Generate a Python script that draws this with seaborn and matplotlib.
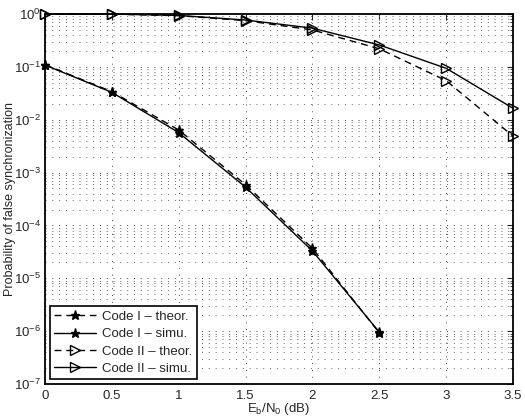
import matplotlib
matplotlib.use("Agg")
import matplotlib.pyplot as plt
import matplotlib.ticker as mticker
import seaborn as sns
import numpy as np

# Eb/N0 values (dB)
snr = [0, 0.5, 1, 1.5, 2, 2.5, 3, 3.5]
snr_code1 = [0, 0.5, 1, 1.5, 2, 2.5]

# probability of false synchronization
code1_theor = [0.11, 0.034, 0.0064, 5.9e-4, 3.7e-5, 9.3e-7]
code1_simu = [0.108, 0.033, 0.0057, 5.3e-4, 3.3e-5, 9.6e-7]
code2_theor = [1.0, 0.995, 0.93, 0.75, 0.50, 0.22, 0.055, 0.0049]
code2_simu = [1.0, 0.998, 0.94, 0.77, 0.54, 0.26, 0.094, 0.0165]

labels = ["Code I \u2013 theor.", "Code I \u2013 simu.",
          "Code II \u2013 theor.", "Code II \u2013 simu."]

sns.set_style("white")
plt.rcParams["font.family"] = ["Liberation Sans", "DejaVu Sans"]
plt.rcParams["mathtext.fontset"] = "custom"
plt.rcParams["mathtext.rm"] = "Liberation Sans"
plt.rcParams["mathtext.it"] = "Liberation Sans"

fig = plt.figure(figsize=(5.25, 4.16), dpi=100)
ax = fig.add_axes([0.0857, 0.0769, 0.8914, 0.8894])

dash = (0, (5, 3.5))
series = [
    (snr_code1, code1_theor, labels[0], dash, "*", "k"),
    (snr_code1, code1_simu, labels[1], "-", "*", "k"),
    (snr, code2_theor, labels[2], dash, ">", "none"),
    (snr, code2_simu, labels[3], "-", ">", "none"),
]
for x, y, lab, ls, mk, fc in series:
    sns.lineplot(x=x, y=y, ax=ax, color="black", linewidth=1.0,
                 linestyle=ls, marker=mk, markersize=7.5 if mk == ">" else 6.5,
                 markerfacecolor=fc, markeredgecolor="black",
                 markeredgewidth=1.0, label=lab, zorder=3, clip_on=False)

ax.set_yscale("log")
ax.set_xlim(0, 3.5)
ax.set_ylim(1e-7, 1)
ax.set_xticks(np.arange(0, 3.51, 0.5))
ax.set_xticklabels(["0", "0.5", "1", "1.5", "2", "2.5", "3", "3.5"])
ax.yaxis.set_major_locator(mticker.LogLocator(base=10, numticks=10))
ax.yaxis.set_minor_locator(mticker.LogLocator(base=10, subs=np.arange(2, 10), numticks=20))
ax.yaxis.set_minor_formatter(mticker.NullFormatter())

ax.grid(True, which="major", axis="both", linestyle=(0, (1, 6)), color="#444444", linewidth=0.7)
ax.grid(True, which="minor", axis="y", linestyle=(0, (1, 6)), color="#666666", linewidth=0.7)

ax.tick_params(axis="both", which="both", direction="in", top=True, right=True, labelsize=9.5)
ax.tick_params(axis="y", which="major", length=4, width=0.8, pad=3)
ax.tick_params(axis="x", which="major", length=4, width=0.8, pad=4)
ax.tick_params(axis="y", which="minor", length=2, width=0.6)
for s in ax.spines.values():
    s.set_linewidth(1.3)
    s.set_color("black")

ax.set_xlabel("$E_b/N_0$ (dB)", fontsize=9.5)
ax.xaxis.set_label_coords(0.5, -0.047)
ax.set_ylabel("Probability of false synchronization", fontsize=9)
ax.yaxis.set_label_coords(-0.063, 0.5)

leg = ax.legend(loc="lower left", fontsize=9.5, frameon=True, fancybox=False,
                edgecolor="black", framealpha=1, borderaxespad=0.35,
                handlelength=3.2, labelspacing=0.38, borderpad=0.35,
                handletextpad=0.45)
leg.get_frame().set_linewidth(1.2)

fig.savefig("out.png", dpi=100)
